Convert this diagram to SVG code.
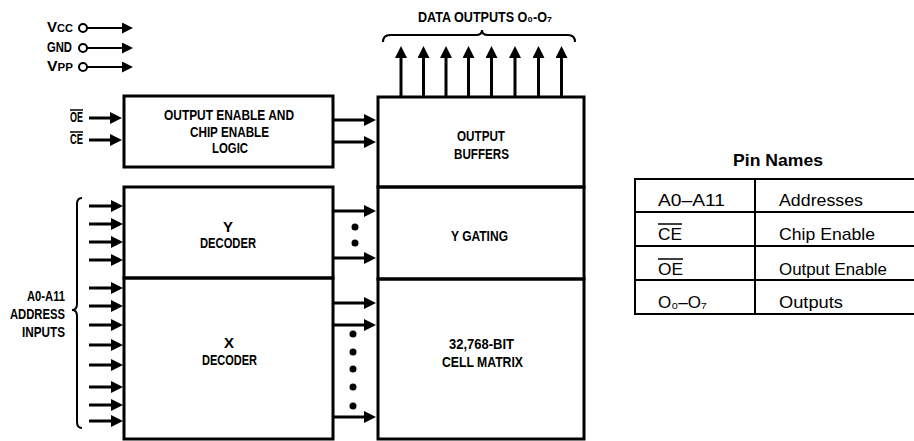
<svg xmlns="http://www.w3.org/2000/svg" width="914" height="441" viewBox="0 0 914 441">
<style>
.bg{fill:#fff}
.box{fill:none;stroke:#000;stroke-width:3}
.ln{fill:none;stroke:#000;stroke-width:3}
.pw{fill:none;stroke:#000;stroke-width:2}
.br{fill:none;stroke:#000;stroke-width:2}
.dot{fill:#000}
.t{font-family:"Liberation Sans Narrow","Liberation Sans",Arial,sans-serif;font-weight:bold;font-size:15px;fill:#000}
.tc{text-anchor:middle}
.te{text-anchor:end}
.p{font-family:"Liberation Sans",Arial,sans-serif;font-size:17px;fill:#000}
.ph{font-family:"Liberation Sans",Arial,sans-serif;font-weight:bold;font-size:17px;fill:#000;text-anchor:middle}
.ov{stroke:#000;stroke-width:1.5}
</style>
<defs>
<marker id="ah" markerUnits="userSpaceOnUse" markerWidth="12" markerHeight="12" viewBox="0 0 12 12" refX="4" refY="6" orient="auto"><path d="M0,0 L12,6 L0,12 z" fill="#000"/></marker>
<marker id="ahs" markerUnits="userSpaceOnUse" markerWidth="11" markerHeight="11" viewBox="0 0 11 11" refX="3" refY="5.5" orient="auto"><path d="M0,0 L11,5.5 L0,11 z" fill="#000"/></marker>
</defs>
<rect class="bg" x="0" y="0" width="914" height="441"/>

<g id="power">
<text class="t" x="47" y="32" textLength="26" lengthAdjust="spacingAndGlyphs">V<tspan font-size="11">CC</tspan></text>
<text class="t" x="47" y="52" textLength="25" lengthAdjust="spacingAndGlyphs">GND</text>
<text class="t" x="47" y="71" textLength="26" lengthAdjust="spacingAndGlyphs">V<tspan font-size="11">PP</tspan></text>
<circle cx="83" cy="28" r="4" fill="#fff" stroke="#000" stroke-width="2"/>
<circle cx="83" cy="48" r="4" fill="#fff" stroke="#000" stroke-width="2"/>
<circle cx="83" cy="67" r="4" fill="#fff" stroke="#000" stroke-width="2"/>
</g>

<g id="oe-ce-inputs">
<text class="t" x="70" y="122" textLength="13" lengthAdjust="spacingAndGlyphs">OE</text>
<line class="ov" x1="70" y1="110" x2="83" y2="110"/>
<text class="t" x="70" y="144" textLength="13" lengthAdjust="spacingAndGlyphs">CE</text>
<line class="ov" x1="70" y1="132" x2="83" y2="132"/>
</g>

<g id="output-enable-logic">
<rect class="box" x="124" y="96" width="209" height="71"/>
<text class="t tc" x="229" y="120" textLength="130" lengthAdjust="spacingAndGlyphs">OUTPUT ENABLE AND</text>
<text class="t tc" x="229.5" y="137" textLength="79" lengthAdjust="spacingAndGlyphs">CHIP ENABLE</text>
<text class="t tc" x="230" y="153" textLength="36" lengthAdjust="spacingAndGlyphs">LOGIC</text>
</g>

<g id="output-buffers">
<rect class="box" x="378" y="97" width="206" height="90"/>
<text class="t tc" x="481" y="141" textLength="48" lengthAdjust="spacingAndGlyphs">OUTPUT</text>
<text class="t tc" x="481.5" y="159" textLength="55" lengthAdjust="spacingAndGlyphs">BUFFERS</text>
</g>

<g id="y-gating">
<rect class="box" x="378" y="187" width="206" height="92"/>
<text class="t tc" x="479.5" y="241" textLength="57" lengthAdjust="spacingAndGlyphs">Y GATING</text>
</g>

<g id="cell-matrix">
<rect class="box" x="378" y="279" width="206" height="160"/>
<text class="t tc" x="481.5" y="349" textLength="65" lengthAdjust="spacingAndGlyphs">32,768-BIT</text>
<text class="t tc" x="482.5" y="367" textLength="81" lengthAdjust="spacingAndGlyphs">CELL MATRIX</text>
</g>

<g id="y-decoder">
<rect class="box" x="124" y="187" width="209" height="91"/>
<text class="t tc" x="228" y="232">Y</text>
<text class="t tc" x="228" y="248" textLength="56" lengthAdjust="spacingAndGlyphs">DECODER</text>
</g>

<g id="x-decoder">
<rect class="box" x="124" y="278" width="209" height="161"/>
<text class="t tc" x="229" y="348">X</text>
<text class="t tc" x="229.5" y="365" textLength="55" lengthAdjust="spacingAndGlyphs">DECODER</text>
</g>

<g id="address-label">
<text class="t te" x="65" y="301" textLength="38" lengthAdjust="spacingAndGlyphs">A0-A11</text>
<text class="t te" x="65" y="319" textLength="55" lengthAdjust="spacingAndGlyphs">ADDRESS</text>
<text class="t te" x="65" y="337" textLength="43" lengthAdjust="spacingAndGlyphs">INPUTS</text>
</g>

<g id="data-outputs-label">
<text class="t" x="418" y="22" textLength="134" lengthAdjust="spacingAndGlyphs">DATA OUTPUTS O₀-O₇</text>
</g>

<g id="connectors">
<line class="pw" x1="87" y1="28" x2="125" y2="28" marker-end="url(#ahs)"/>
<line class="pw" x1="87" y1="48" x2="125" y2="48" marker-end="url(#ahs)"/>
<line class="pw" x1="87" y1="67" x2="125" y2="67" marker-end="url(#ahs)"/>
<line class="ln" x1="89" y1="118" x2="114" y2="118" marker-end="url(#ah)"/>
<line class="ln" x1="89" y1="140" x2="114" y2="140" marker-end="url(#ah)"/>
<line class="ln" x1="333" y1="120" x2="368" y2="120" marker-end="url(#ah)"/>
<line class="ln" x1="333" y1="142" x2="368" y2="142" marker-end="url(#ah)"/>
<line class="ln" x1="401" y1="97" x2="401" y2="54" marker-end="url(#ah)"/>
<line class="ln" x1="423.5" y1="97" x2="423.5" y2="54" marker-end="url(#ah)"/>
<line class="ln" x1="446" y1="97" x2="446" y2="54" marker-end="url(#ah)"/>
<line class="ln" x1="468.5" y1="97" x2="468.5" y2="54" marker-end="url(#ah)"/>
<line class="ln" x1="491.5" y1="97" x2="491.5" y2="54" marker-end="url(#ah)"/>
<line class="ln" x1="515" y1="97" x2="515" y2="54" marker-end="url(#ah)"/>
<line class="ln" x1="538.5" y1="97" x2="538.5" y2="54" marker-end="url(#ah)"/>
<line class="ln" x1="561.5" y1="97" x2="561.5" y2="54" marker-end="url(#ah)"/>
<path class="br" d="M383,42 Q383,35 390,35 L476,35 Q482,35 482,30 Q482,35 488,35 L568,35 Q575,35 575,42"/>
<line class="ln" x1="89" y1="206" x2="115" y2="206" marker-end="url(#ah)"/>
<line class="ln" x1="89" y1="224" x2="115" y2="224" marker-end="url(#ah)"/>
<line class="ln" x1="89" y1="242" x2="115" y2="242" marker-end="url(#ah)"/>
<line class="ln" x1="89" y1="260" x2="115" y2="260" marker-end="url(#ah)"/>
<line class="ln" x1="89" y1="288" x2="115" y2="288" marker-end="url(#ah)"/>
<line class="ln" x1="89" y1="306" x2="115" y2="306" marker-end="url(#ah)"/>
<line class="ln" x1="89" y1="325" x2="115" y2="325" marker-end="url(#ah)"/>
<line class="ln" x1="89" y1="345" x2="115" y2="345" marker-end="url(#ah)"/>
<line class="ln" x1="89" y1="365" x2="115" y2="365" marker-end="url(#ah)"/>
<line class="ln" x1="89" y1="387" x2="115" y2="387" marker-end="url(#ah)"/>
<line class="ln" x1="89" y1="405" x2="115" y2="405" marker-end="url(#ah)"/>
<line class="ln" x1="89" y1="421" x2="115" y2="421" marker-end="url(#ah)"/>
<path class="br" d="M82,198 Q77,198 77,204 L77,304 Q77,310 72,310 Q77,310 77,316 L77,422 Q77,428 82,428"/>
<line class="ln" x1="333" y1="211" x2="368" y2="211" marker-end="url(#ah)"/>
<line class="ln" x1="333" y1="258" x2="368" y2="258" marker-end="url(#ah)"/>
<line class="ln" x1="333" y1="303" x2="368" y2="303" marker-end="url(#ah)"/>
<line class="ln" x1="333" y1="325" x2="368" y2="325" marker-end="url(#ah)"/>
<line class="ln" x1="333" y1="417" x2="368" y2="417" marker-end="url(#ah)"/>
<circle class="dot" cx="355" cy="227" r="3.5"/>
<circle class="dot" cx="355" cy="243" r="3.5"/>
<circle class="dot" cx="353" cy="334" r="3.5"/>
<circle class="dot" cx="353" cy="352" r="3.5"/>
<circle class="dot" cx="353" cy="369" r="3.5"/>
<circle class="dot" cx="353" cy="387" r="3.5"/>
<circle class="dot" cx="353" cy="406" r="3.5"/>
</g>

<g id="pin-names">
<text class="ph" x="778" y="166" textLength="90" lengthAdjust="spacingAndGlyphs">Pin Names</text>
<rect x="635" y="179" width="290" height="135" fill="none" stroke="#000" stroke-width="2"/>
<line x1="755" y1="179" x2="755" y2="314" stroke="#000" stroke-width="2"/>
<line x1="635" y1="212" x2="914" y2="212" stroke="#000" stroke-width="2"/>
<line x1="635" y1="246" x2="914" y2="246" stroke="#000" stroke-width="2"/>
<line x1="635" y1="280" x2="914" y2="280" stroke="#000" stroke-width="2"/>
<text class="p" x="658" y="206" textLength="67" lengthAdjust="spacingAndGlyphs">A0–A11</text>
<text class="p" x="658" y="240" textLength="24" lengthAdjust="spacingAndGlyphs">CE</text>
<line class="ov" x1="658" y1="224" x2="682" y2="224"/>
<text class="p" x="658" y="275" textLength="25" lengthAdjust="spacingAndGlyphs">OE</text>
<line class="ov" x1="658" y1="259" x2="683" y2="259"/>
<text class="p" x="658" y="308" font-size="18">O₀–O₇</text>
<text class="p" x="779" y="206" textLength="84" lengthAdjust="spacingAndGlyphs">Addresses</text>
<text class="p" x="779" y="240" textLength="96" lengthAdjust="spacingAndGlyphs">Chip Enable</text>
<text class="p" x="779" y="275" textLength="108" lengthAdjust="spacingAndGlyphs">Output Enable</text>
<text class="p" x="779" y="308" textLength="64" lengthAdjust="spacingAndGlyphs">Outputs</text>
</g>
</svg>
